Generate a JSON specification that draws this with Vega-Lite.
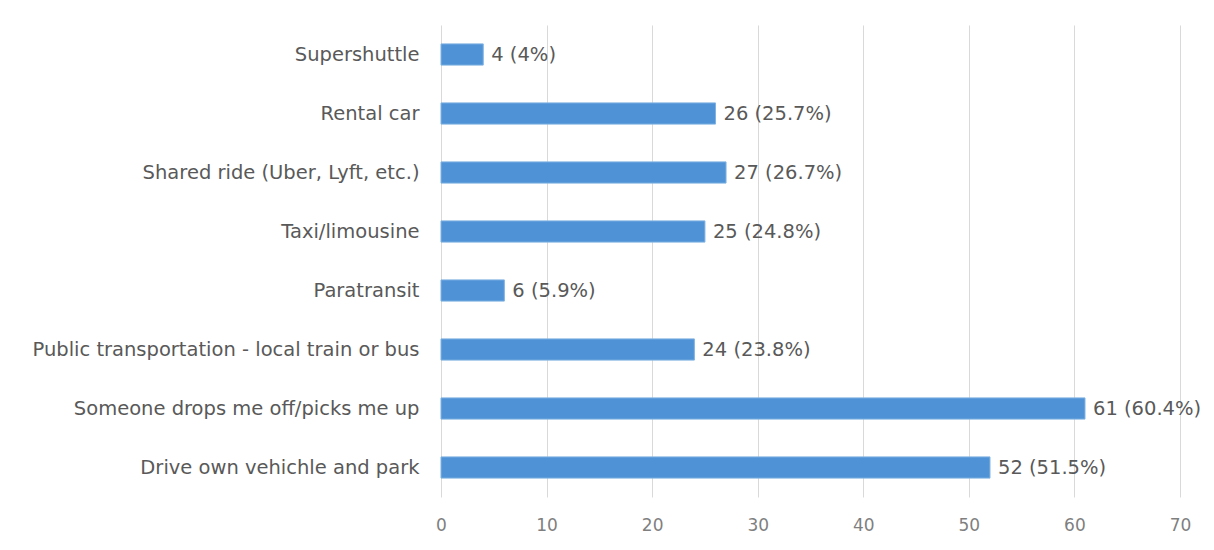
{
  "$schema": "https://vega.github.io/schema/vega-lite/v6.json",
  "width": 739,
  "height": 472,
  "autosize": {"type": "none"},
  "padding": {"left": 441, "top": 25, "right": 34, "bottom": 53},
  "background": "white",
  "config": {
    "font": "DejaVu Sans",
    "view": {"stroke": null}
  },
  "data": {
    "values": [
      {"mode": "Supershuttle", "count": 4, "label": "4 (4%)"},
      {"mode": "Rental car", "count": 26, "label": "26 (25.7%)"},
      {"mode": "Shared ride (Uber, Lyft, etc.)", "count": 27, "label": "27 (26.7%)"},
      {"mode": "Taxi/limousine", "count": 25, "label": "25 (24.8%)"},
      {"mode": "Paratransit", "count": 6, "label": "6 (5.9%)"},
      {"mode": "Public transportation - local train or bus", "count": 24, "label": "24 (23.8%)"},
      {"mode": "Someone drops me off/picks me up", "count": 61, "label": "61 (60.4%)"},
      {"mode": "Drive own vehichle and park", "count": 52, "label": "52 (51.5%)"}
    ]
  },
  "encoding": {
    "y": {
      "field": "mode",
      "type": "nominal",
      "sort": null,
      "title": null,
      "scale": {"paddingInner": 0.64, "paddingOuter": 0.32},
      "axis": {
        "domain": false,
        "ticks": false,
        "labelFontSize": 19.5,
        "labelColor": "#595959",
        "labelPadding": 22,
        "labelLimit": 440
      }
    },
    "x": {
      "field": "count",
      "type": "quantitative",
      "title": null,
      "scale": {"domain": [0, 70], "nice": false},
      "axis": {
        "values": [0, 10, 20, 30, 40, 50, 60, 70],
        "domain": false,
        "ticks": false,
        "grid": true,
        "gridColor": "#d9d9d9",
        "gridWidth": 1,
        "labelFontSize": 17,
        "labelColor": "#7f7f7f",
        "labelPadding": 20,
        "labelFlush": false
      }
    }
  },
  "layer": [
    {
      "mark": {"type": "bar", "color": "#4f93d6", "stroke": "#7fb2e3", "strokeWidth": 1}
    },
    {
      "mark": {"type": "text", "align": "left", "baseline": "middle", "dx": 8, "fontSize": 19.5, "color": "#595959"},
      "encoding": {"text": {"field": "label"}}
    }
  ]
}
